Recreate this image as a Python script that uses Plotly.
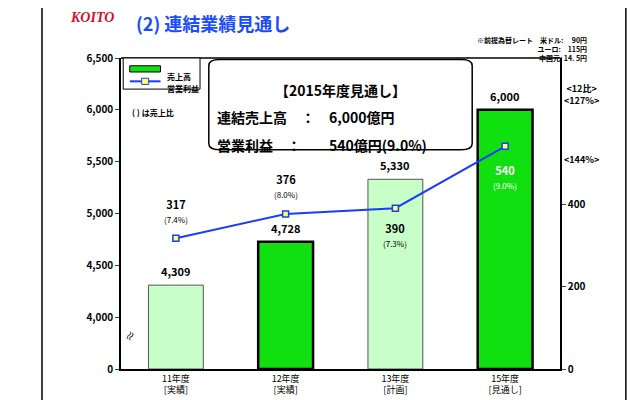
import plotly.graph_objects as go

categories = ["11年度<br>[実績]", "12年度<br>[実績]", "13年度<br>[計画]", "15年度<br>[見通し]"]
sales = [4309, 4728, 5330, 6000]
profit = [317, 376, 390, 540]
profit_ratio = ["(7.4%)", "(8.0%)", "(7.3%)", "(9.0%)"]
left_ticks = [3500, 4000, 4500, 5000, 5500, 6000, 6500]
left_labels = ["0", "4,000", "4,500", "5,000", "5,500", "6,000", "6,500"]
right_ticks = [0, 200, 400]

BASE = 3500
FONT = "Noto Sans CJK JP"
bar_colors = ["#c8ffc8", "#10e010", "#c8ffc8", "#10e010"]
bar_lines = ["#555555", "#000000", "#555555", "#000000"]
bar_widths = [1, 2.5, 1, 2.5]

fig = go.Figure()
fig.add_trace(go.Bar(
    x=categories, y=[s - BASE for s in sales], base=BASE, width=0.5,
    marker=dict(color=bar_colors, line=dict(color=bar_lines, width=bar_widths)),
    showlegend=False, hoverinfo="skip"))
fig.add_trace(go.Scatter(
    x=categories, y=profit, yaxis="y2", mode="lines+markers",
    line=dict(color="#1a3cff", width=2),
    marker=dict(symbol="square", size=6, color="#ffff66", line=dict(color="#1a3cff", width=1.5)),
    showlegend=False, hoverinfo="skip"))

# value labels
for c, s in zip(categories, sales):
    fig.add_annotation(x=c, y=s, text=f"<b>{s:,}</b>", showarrow=False, yshift=14,
                       font=dict(size=11, color="black", family=FONT))
for i, (c, p, r) in enumerate(zip(categories, profit, profit_ratio)):
    shift, col = 28, "black"
    if i == 2:
        shift = -26
    if i == 3:
        shift, col = -30, "white"
    fig.add_annotation(x=c, y=p, yref="y2", text=f"<b>{p}</b><br><span style='font-size:8px'>{r}</span>",
                       showarrow=False, yshift=shift, font=dict(size=11, color=col, family=FONT))

fig.update_layout(
    width=640, height=400, margin=dict(l=113, r=88, t=50, b=33),
    paper_bgcolor="white", plot_bgcolor="white", bargap=0.5,
    font=dict(family=FONT, color="black", size=9),
    xaxis=dict(showline=True, linecolor="black", linewidth=1.5, ticks="",
               tickfont=dict(size=9)),
    yaxis=dict(range=[BASE, 6500], tickvals=left_ticks, ticktext=[f"<b>{t}</b>" for t in left_labels],
               showgrid=False, showline=True, linecolor="black", linewidth=1.5,
               ticks="outside", ticklen=4, tickfont=dict(size=10)),
    yaxis2=dict(range=[0, 754], overlaying="y", side="right", tickvals=right_ticks,
                ticktext=[f"<b>{t}</b>" for t in right_ticks],
                showgrid=False, showline=True, linecolor="black", linewidth=1.5,
                ticks="outside", ticklen=4, tickfont=dict(size=10)),
    shapes=[
        dict(type="line", xref="paper", yref="paper", x0=-0.18, x1=-0.18, y0=-0.2, y1=1.3,
             line=dict(color="black", width=1.5)),
        dict(type="line", xref="paper", yref="paper", x0=1.15, x1=1.15, y0=-0.2, y1=1.3,
             line=dict(color="black", width=1.5)),
        dict(type="line", xref="paper", yref="paper", x0=0, x1=1, y0=1, y1=1,
             line=dict(color="black", width=1.5)),
        dict(type="rect", xref="paper", yref="paper", x0=0.005, x1=0.18, y0=0.9, y1=1,
             line=dict(color="black", width=1), fillcolor="white"),
        dict(type="rect", xref="paper", yref="paper", x0=0.02, x1=0.09, y0=0.955, y1=0.975,
             line=dict(color="black", width=1), fillcolor="#10e010"),
        dict(type="line", xref="paper", yref="paper", x0=0.02, x1=0.09, y0=0.925, y1=0.925,
             line=dict(color="#1a3cff", width=2)),
        dict(type="rect", xref="paper", yref="paper", x0=0.047, x1=0.063, y0=0.915, y1=0.935,
             line=dict(color="#1a3cff", width=1), fillcolor="#ffff66"),
        dict(type="path", xref="paper", yref="paper",
             path="M 0.2 0.975 Q 0.2 0.995 0.225 0.995 L 0.775 0.995 Q 0.8 0.995 0.8 0.975 "
                  "L 0.8 0.725 Q 0.8 0.705 0.775 0.705 L 0.225 0.705 Q 0.2 0.705 0.2 0.725 Z",
             line=dict(color="black", width=1.5), fillcolor="white"),
    ],
)

ann = [
    dict(x=-0.12, y=1.16, text="<b><i>KOITO</i></b>", font=dict(size=14, color="#d0102a", family="Liberation Serif")),
    dict(x=0.03, y=1.16, text="<b>(2) 連結業績見通し</b>", font=dict(size=18, color="#1a4cff"), xanchor="left"),
    dict(x=1.065, y=1.08, text="<b>※前提為替レート　米ドル:　 90円<br>ユーロ:　115円<br>中国元: 14. 5円</b>",
         font=dict(size=7), align="right", xanchor="right"),
    dict(x=0.1, y=0.965, text="<b>売上高</b>", font=dict(size=8), xanchor="left"),
    dict(x=0.1, y=0.925, text="<b>営業利益</b>", font=dict(size=8), xanchor="left"),
    dict(x=0.02, y=0.85, text="<b>( ) は売上比</b>", font=dict(size=8), xanchor="left"),
    dict(x=0.5, y=0.935, text="<b>【2015年度見通し】</b>", font=dict(size=14)),
    dict(x=0.215, y=0.85, text="<b>連結売上高　：　6,000億円</b>", font=dict(size=14), xanchor="left"),
    dict(x=0.215, y=0.76, text="<b>営業利益　：　　540億円(9.0%)</b>", font=dict(size=14), xanchor="left"),
    dict(x=1.005, y=0.93, text="<b>&lt;12比&gt;<br>&lt;127%&gt;</b>", font=dict(size=9), xanchor="left"),
    dict(x=1.005, y=0.7, text="<b>&lt;144%&gt;</b>", font=dict(size=9), xanchor="left"),
    dict(x=-0.01, y=0.07, text="≈", font=dict(size=11), textangle=-60),
]
for a in ann:
    a.update(xref="paper", yref="paper", showarrow=False)
    fig.add_annotation(**a)

fig.write_html("out.html")
